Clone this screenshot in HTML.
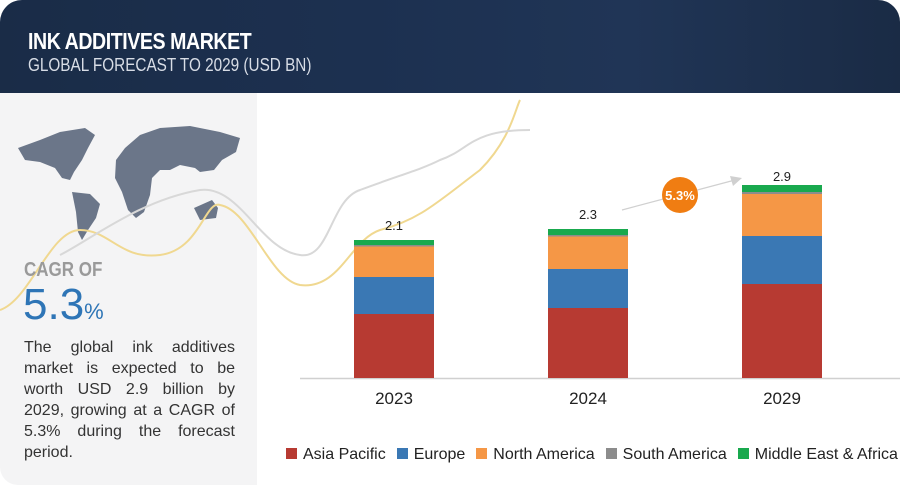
<!DOCTYPE html>
<html><head><style>
body{margin:0;width:900px;height:489px;overflow:hidden;background:#fff;font-family:"Liberation Sans",sans-serif;position:relative}
.hdr{position:absolute;left:0;top:0;width:900px;height:93px;background:linear-gradient(90deg,#1a2c47,#1c3050 40%,#203556 70%,#1a2b45);border-top-left-radius:22px;border-top-right-radius:22px}
.t1{position:absolute;left:28px;top:28px;color:#fff;font-weight:bold;font-size:23px;letter-spacing:-0.5px;transform:scaleX(0.85);transform-origin:left}
.t2{position:absolute;left:28px;top:55px;color:#d8dde6;font-size:18px;transform:scaleX(0.85);transform-origin:left}
.lp{position:absolute;left:0;top:93px;width:257px;height:392px;background:#f4f4f5;border-bottom-left-radius:18px}
.cagr{position:absolute;left:24px;top:259px;color:#9a9a9a;font-size:20px;font-weight:bold;transform:scaleX(0.85);transform-origin:left}
.big{position:absolute;left:23px;top:280px;color:#2e75b6;font-size:44px}
.big span{font-size:22px}
.desc{position:absolute;left:24px;top:337px;width:211px;font-size:16px;line-height:21px;color:#333;text-align:justify}
.lab{position:absolute;font-size:13px;color:#222;width:80px;text-align:center}
.yr{position:absolute;font-size:17px;color:#222;width:80px;text-align:center;top:389px}
.leg{position:absolute;top:446px;left:286px;font-size:16px;color:#222;white-space:nowrap}
.leg i{display:inline-block;width:11px;height:11px;margin:0 6px 0 0;vertical-align:0}
.leg b{font-weight:normal;margin-right:11px}
</style></head><body>
<div class="hdr"></div>
<div class="t1">INK ADDITIVES MARKET</div>
<div class="t2">GLOBAL FORECAST TO 2029 (USD BN)</div>
<div class="lp"></div>
<svg style="position:absolute;left:0;top:0" width="900" height="489">
<g fill="#6b7689">
<path d="M18 148 L40 140 L60 132 L85 128 L95 135 L88 148 L82 160 L74 172 L70 180 L62 178 L55 168 L40 162 L25 160Z"/>
<path d="M72 192 L90 194 L100 204 L96 218 L88 230 L82 240 L78 232 L76 212Z"/>
<path d="M116 160 L125 148 L140 135 L160 128 L190 126 L220 132 L240 138 L236 152 L222 160 L214 170 L200 172 L195 168 L180 165 L170 170 L160 170 L152 178 L150 195 L144 212 L136 218 L128 210 L122 192 L115 178Z"/>
<path d="M194 208 L212 200 L218 208 L216 218 L200 220Z"/>
</g>
<path d="M0 310 C30 300,50 230,80 230 C110 230,120 260,160 255 C200 250,205 200,220 205 C250 210,270 280,300 285 C340 290,350 240,380 230 C420 220,440 200,480 170 C510 140,515 110,520 100" fill="none" stroke="#f0d890" stroke-width="2"/>
<path d="M60 255 C90 240,140 200,200 190 C240 185,260 250,300 255 C330 260,330 200,360 190 C400 175,420 170,440 160 C470 150,470 130,530 130" fill="none" stroke="#d8d8d8" stroke-width="2"/>
<line x1="300" y1="378.5" x2="900" y2="378.5" stroke="#d0d0d0" stroke-width="1.5"/>
<rect x="354" y="314" width="80" height="64" fill="#b73a32"/>
<rect x="354" y="277" width="80" height="37" fill="#3a78b4"/>
<rect x="354" y="246" width="80" height="31" fill="#f59746"/>
<rect x="354" y="245" width="80" height="1.5" fill="#8c8c8c"/>
<rect x="354" y="240" width="80" height="5" fill="#19a94e"/>
<rect x="548" y="308" width="80" height="70" fill="#b73a32"/>
<rect x="548" y="269" width="80" height="39" fill="#3a78b4"/>
<rect x="548" y="236" width="80" height="33" fill="#f59746"/>
<rect x="548" y="235" width="80" height="1.5" fill="#8c8c8c"/>
<rect x="548" y="229" width="80" height="6" fill="#19a94e"/>
<rect x="742" y="284" width="80" height="94" fill="#b73a32"/>
<rect x="742" y="236" width="80" height="48" fill="#3a78b4"/>
<rect x="742" y="194" width="80" height="42" fill="#f59746"/>
<rect x="742" y="192" width="80" height="2" fill="#8c8c8c"/>
<rect x="742" y="185" width="80" height="7" fill="#19a94e"/>
<line x1="622" y1="210" x2="735" y2="180" stroke="#d0d0d0" stroke-width="1.2"/>
<polygon points="742,178 730,176 733,186" fill="#d0d0d0"/>
<circle cx="680" cy="195" r="18" fill="#f07d12"/>
<text x="680" y="200" font-size="13" font-weight="bold" fill="#fff" text-anchor="middle" font-family="Liberation Sans">5.3%</text>
</svg>
<div class="lab" style="left:354px;top:218px">2.1</div>
<div class="lab" style="left:548px;top:207px">2.3</div>
<div class="lab" style="left:742px;top:169px">2.9</div>
<div class="yr" style="left:354px">2023</div>
<div class="yr" style="left:548px">2024</div>
<div class="yr" style="left:742px">2029</div>
<div class="cagr">CAGR OF</div>
<div class="big">5.3<span>%</span></div>
<div class="desc">The global ink additives market is expected to be worth USD 2.9 billion by 2029, growing at a CAGR of 5.3% during the forecast period.</div>
<div class="leg"><i style="background:#b73a32"></i><b>Asia Pacific</b><i style="background:#3a78b4"></i><b>Europe</b><i style="background:#f59746"></i><b>North America</b><i style="background:#8c8c8c"></i><b>South America</b><i style="background:#19a94e"></i><b>Middle East &amp; Africa</b></div>
</body></html>
